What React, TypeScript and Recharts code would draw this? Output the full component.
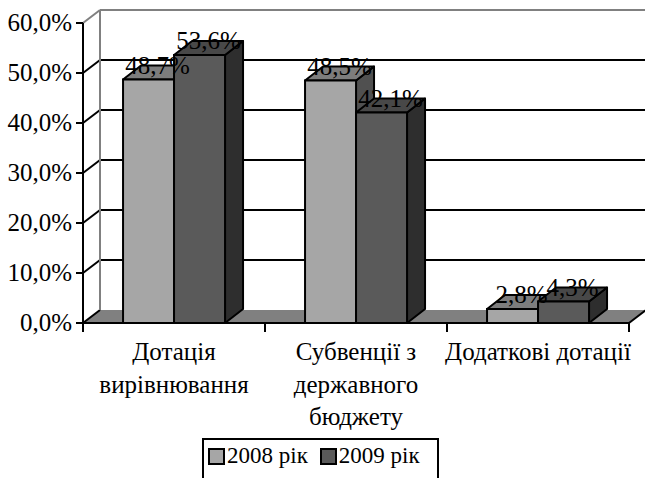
import React from 'react';
import { BarChart, Bar, XAxis, YAxis, CartesianGrid, Legend, LabelList } from 'recharts';

const categories = ['Дотація\nвирівнювання', 'Субвенції з\nдержавного\nбюджету', 'Додаткові дотації'];
const seriesNames = ['2008 рік', '2009 рік'];
const series2008 = [48.7, 48.5, 2.8];
const series2009 = [53.6, 42.1, 4.3];
const yTicks = [0, 10, 20, 30, 40, 50, 60];

const data = categories.map((c, i) => ({ name: c, y2008: series2008[i], y2009: series2009[i] }));

const FONT = 'Liberation Serif, Tinos, DejaVu Serif, serif';
const WALL_DX = 17;
const WALL_DY = 13;
const BAR_DX = 18;
const BAR_DY = 14;
const CHART_W = 645;
const CHART_H = 478;

const fmt = (v: number) => v.toFixed(1).replace('.', ',') + '%';

const GridLine = (props: any) => {
  const { x1, y1, x2, index } = props;
  const top = props.y ?? 23;
  const bottom = top + (props.height ?? 300);
  const bx1 = x1 + WALL_DX;
  const by = y1 - WALL_DY;
  const bx2 = CHART_W;
  if (Math.abs(y1 - bottom) < 0.5) {
    return (
      <g key={`gl-${index}`}>
        <polygon
          points={`${x1},${y1} ${bx1},${by} ${x2 + WALL_DX},${by} ${x2},${y1}`}
          fill="#808080"
          stroke="none"
        />
        <line x1={x1} y1={y1} x2={bx1} y2={by} stroke="#000" strokeWidth={2} />
        <line x1={x2} y1={y1} x2={x2 + WALL_DX} y2={by} stroke="#000" strokeWidth={2} />
      </g>
    );
  }
  if (Math.abs(y1 - top) < 0.5) {
    return (
      <g key={`gl-${index}`}>
        <line x1={bx1} y1={by} x2={bx1} y2={bottom - WALL_DY} stroke="#808080" strokeWidth={2} />
        <line x1={x1} y1={y1} x2={bx1} y2={by} stroke="#808080" strokeWidth={2} />
        <line x1={bx1} y1={by} x2={bx2} y2={by} stroke="#808080" strokeWidth={2} />
      </g>
    );
  }
  return (
    <g key={`gl-${index}`}>
      <line x1={x1} y1={y1} x2={bx1} y2={by} stroke="#000" strokeWidth={2} />
      <line x1={bx1} y1={by} x2={bx2} y2={by} stroke="#000" strokeWidth={2} />
    </g>
  );
};

const makeBox = (front: string, topC: string, side: string) => (props: any) => {
  const { x, y, width, height } = props;
  if (x == null || y == null || !width || height == null) return <g />;
  const dx = BAR_DX;
  const dy = BAR_DY;
  const r = x + width;
  const b = y + height;
  return (
    <g>
      <polygon
        points={`${r},${y} ${r + dx},${y - dy} ${r + dx},${b - dy} ${r},${b}`}
        fill={side}
        stroke="#000"
        strokeWidth={2}
        strokeLinejoin="round"
      />
      <polygon
        points={`${x},${y} ${x + dx},${y - dy} ${r + dx},${y - dy} ${r},${y}`}
        fill={topC}
        stroke="#000"
        strokeWidth={2}
        strokeLinejoin="round"
      />
      <rect x={x} y={y} width={width} height={height} fill={front} stroke="#000" strokeWidth={2} />
    </g>
  );
};

const renderLabel = (props: any) => {
  const vb = props.viewBox || props;
  const x = props.x ?? vb.x;
  const y = props.y ?? vb.y;
  const width = props.width ?? vb.width;
  const { value } = props;
  if (x == null || y == null) return null;
  return (
    <text
      x={x + width / 2 + BAR_DX / 2}
      y={y - BAR_DY / 2 + 1}
      textAnchor="middle"
      style={{ fontFamily: FONT }}
      fontSize={25}
      fill="#000"
    >
      {fmt(Number(value))}
    </text>
  );
};

const YTick = (props: any) => {
  const { x, y, payload } = props;
  return (
    <text x={x} y={y + 8} textAnchor="end" style={{ fontFamily: FONT }} fontSize={25} fill="#000">
      {fmt(Number(payload.value))}
    </text>
  );
};

const XTick = (props: any) => {
  const { x, y, payload, index } = props;
  const half = payload && payload.offset ? payload.offset : 91;
  const lines = String(payload.value).split('\n');
  return (
    <g>
      <line x1={x - half} y1={y} x2={x - half} y2={y + 9} stroke="#000" strokeWidth={2} />
      {index === categories.length - 1 && (
        <line x1={x + half} y1={y} x2={x + half} y2={y + 9} stroke="#000" strokeWidth={2} />
      )}
      {lines.map((l, i) => (
        <text
          key={i}
          x={x}
          y={y + 37 + i * 32.5}
          textAnchor="middle"
          style={{ fontFamily: FONT }}
          fontSize={25}
          fill="#000"
        >
          {l}
        </text>
      ))}
    </g>
  );
};

const renderLegend = (props: any) => {
  const payload = props.payload || [];
  return (
    <div
      style={{
        border: '2px solid #000',
        borderBottom: 'none',
        width: 237,
        height: 40,
        boxSizing: 'border-box',
        background: '#fff',
        display: 'flex',
        alignItems: 'flex-start',
        paddingLeft: 4,
        paddingTop: 6,
        fontFamily: FONT,
        fontSize: 23,
        color: '#000',
        lineHeight: '20px',
      }}
    >
      {payload.map((p: any, i: number) => (
        <div key={i} style={{ display: 'flex', alignItems: 'center', marginRight: 12 }}>
          <span
            style={{
              display: 'inline-block',
              width: 17,
              height: 17,
              boxSizing: 'border-box',
              border: '2px solid #000',
              background: p.color,
              marginRight: 2,
            }}
          />
          <span>{p.value}</span>
        </div>
      ))}
    </div>
  );
};

export default function App() {
  return (
    <div style={{ position: 'absolute', left: 0, top: 0, width: CHART_W, height: CHART_H, background: '#fff', fontFamily: FONT }}>
      <BarChart
        width={CHART_W}
        height={CHART_H}
        data={data}
        margin={{ top: 23, right: 16, left: 0, bottom: 0 }}
        barCategoryGap="22%"
        barGap={0}
      >
        <CartesianGrid vertical={false} horizontal={GridLine as any} />
        <XAxis
          dataKey="name"
          height={155}
          tickSize={0}
          tickMargin={0}
          tickLine={false}
          axisLine={{ stroke: '#000', strokeWidth: 2 }}
          tick={XTick as any}
          interval={0}
        />
        <YAxis
          width={83}
          domain={[0, 60]}
          ticks={yTicks}
          tickSize={7}
          tickMargin={4}
          axisLine={{ stroke: '#000', strokeWidth: 2 }}
          tickLine={{ stroke: '#000', strokeWidth: 2 }}
          tick={YTick as any}
          interval={0}
        />
        <Legend
          layout="horizontal"
          verticalAlign="middle"
          align="center"
          content={renderLegend as any}
          wrapperStyle={{ left: 202, top: 438, width: 'auto', height: 'auto' }}
        />
        <Bar
          dataKey="y2008"
          name={seriesNames[0]}
          fill="#A6A6A6"
          legendType="square"
          isAnimationActive={false}
          shape={makeBox('#A6A6A6', '#7D7D7D', '#505050') as any}
        >
          <LabelList dataKey="y2008" content={renderLabel as any} />
        </Bar>
        <Bar
          dataKey="y2009"
          name={seriesNames[1]}
          fill="#5A5A5A"
          legendType="square"
          isAnimationActive={false}
          shape={makeBox('#5A5A5A', '#484848', '#2E2E2E') as any}
        >
          <LabelList dataKey="y2009" content={renderLabel as any} />
        </Bar>
      </BarChart>
    </div>
  );
}
